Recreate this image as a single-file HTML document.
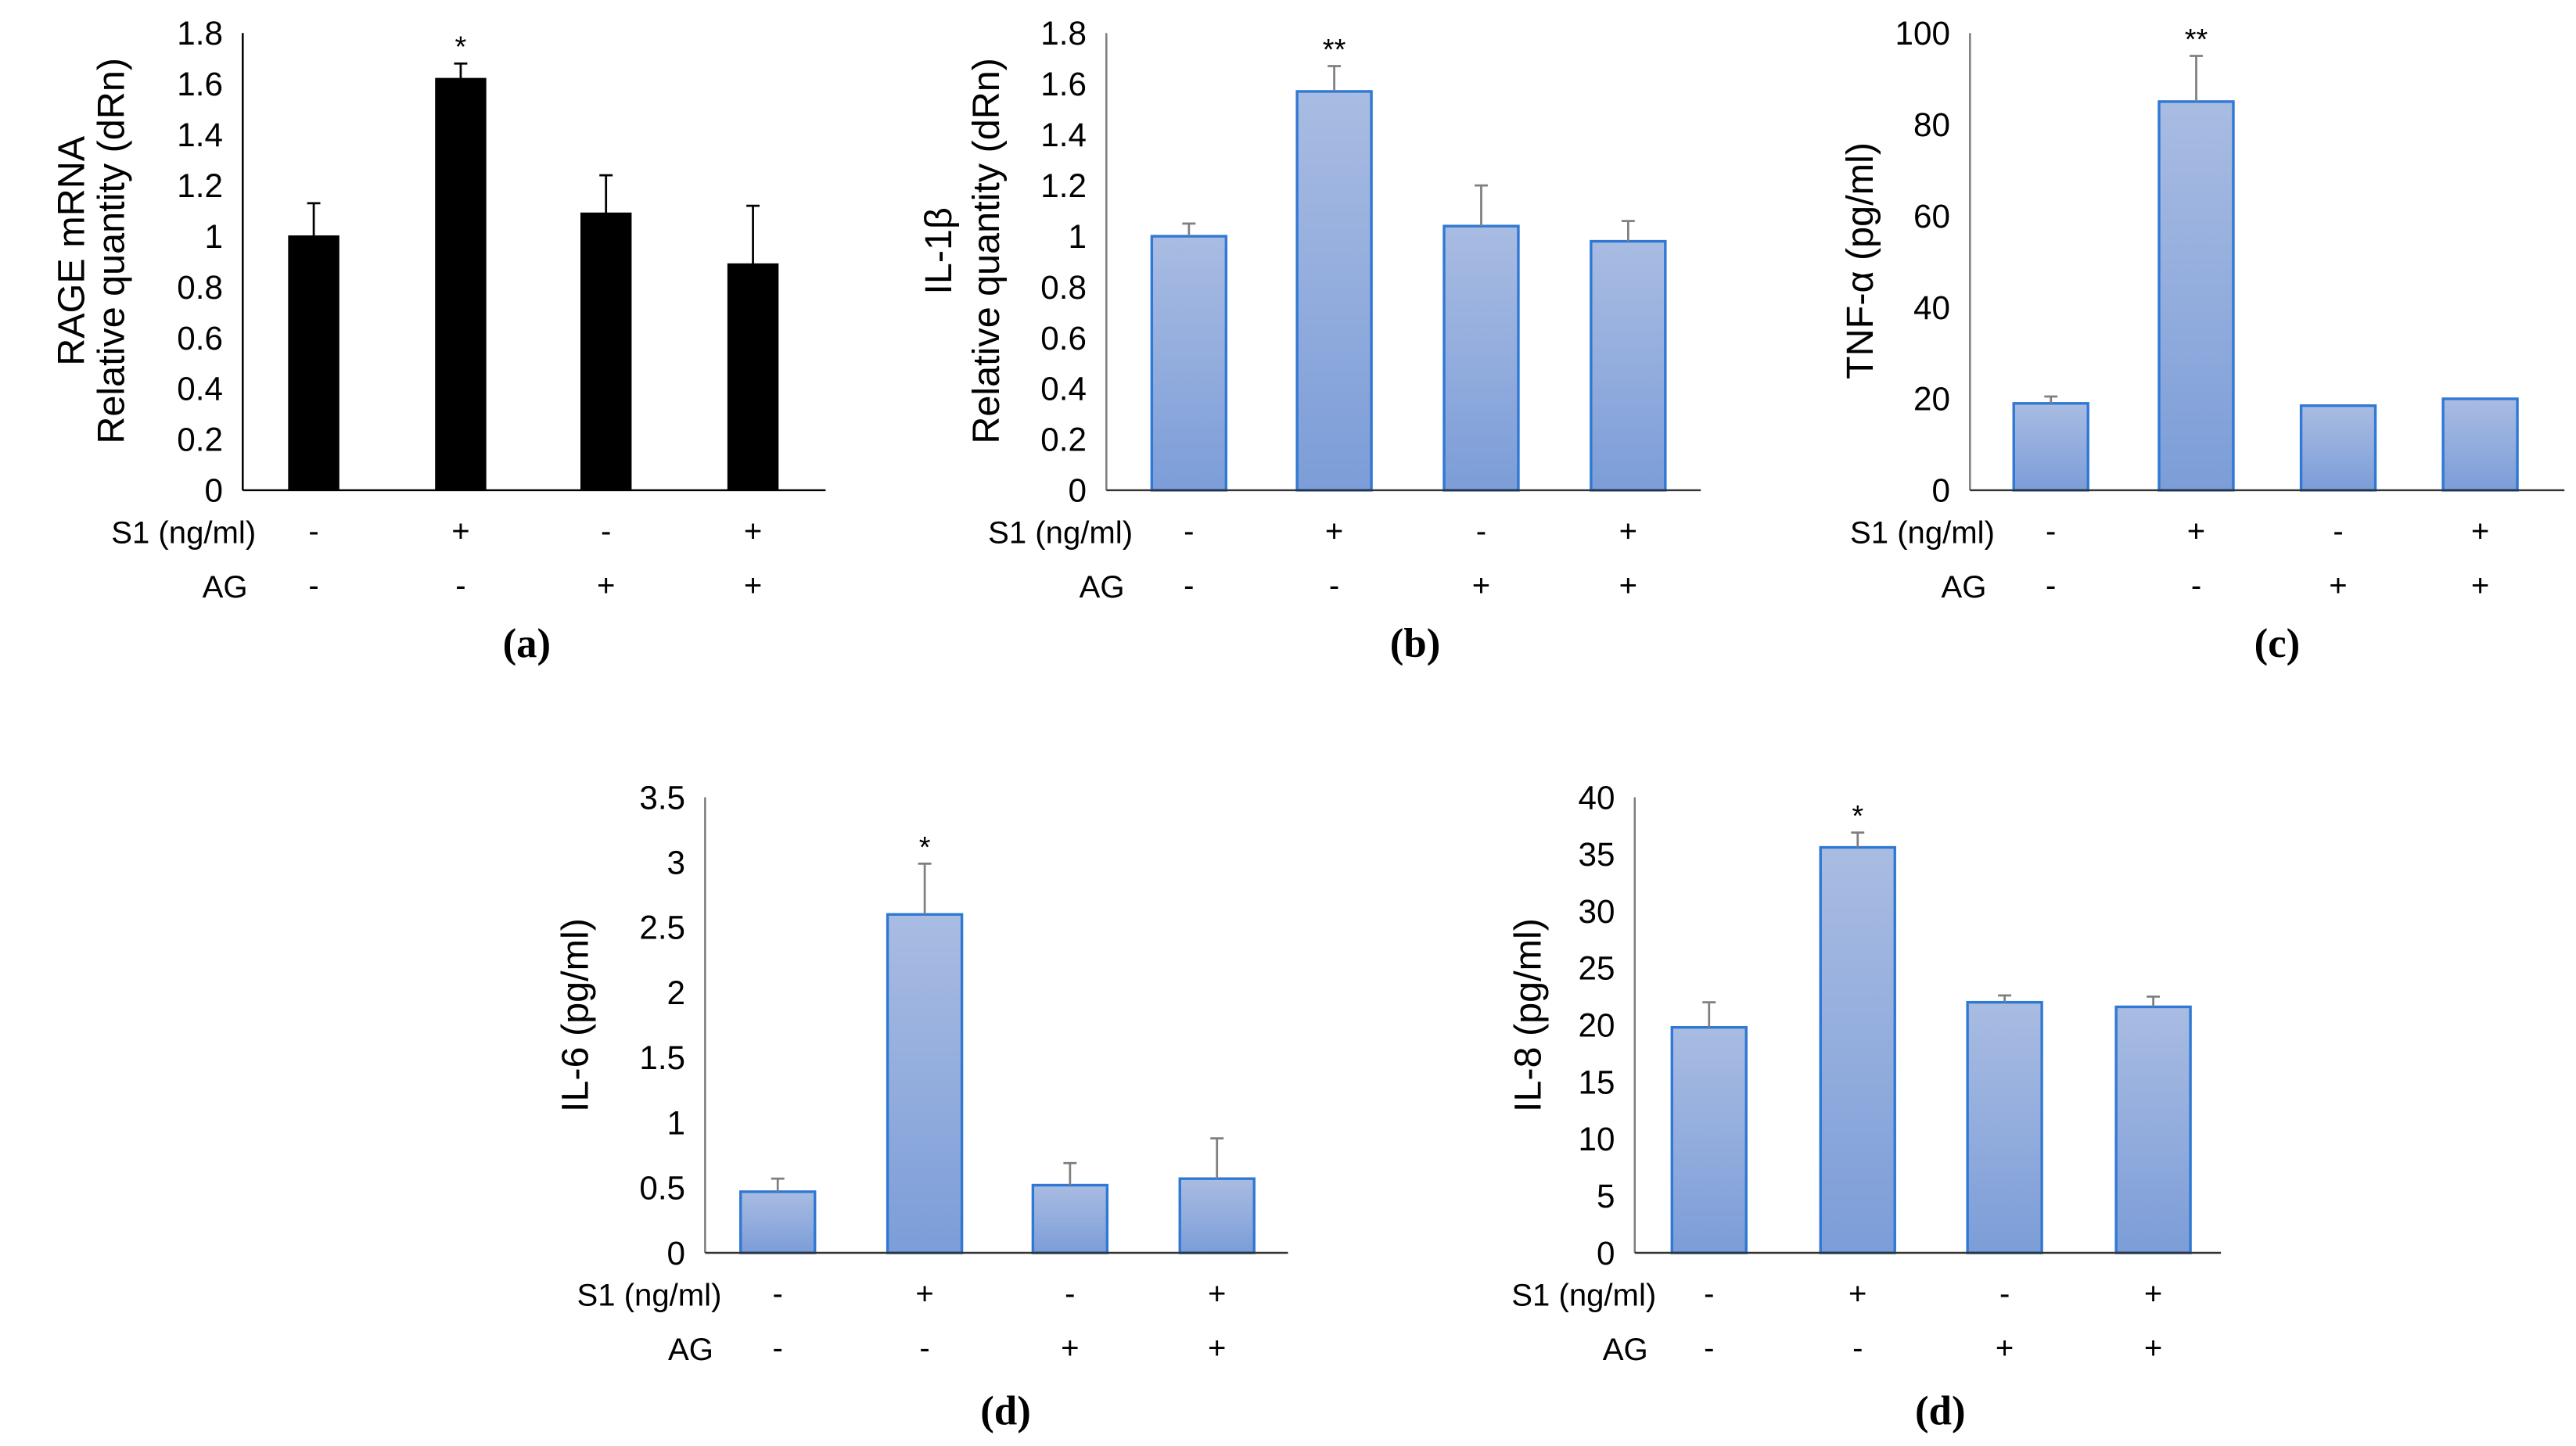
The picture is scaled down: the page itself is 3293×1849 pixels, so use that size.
<!DOCTYPE html>
<html><head><meta charset="utf-8"><style>
html,body{margin:0;padding:0;background:#fff;}
svg{display:block;}
text{font-family:"Liberation Sans",sans-serif;fill:#000;}
.lbl{font-family:"Liberation Serif",serif;font-weight:bold;}
</style></head><body>
<svg id="fig" width="3293" height="1849" viewBox="0 0 1560 876" preserveAspectRatio="none" xmlns="http://www.w3.org/2000/svg">
<defs>
<linearGradient id="bg" x1="0" y1="0" x2="0" y2="1"><stop offset="0" stop-color="#a9bce2"/><stop offset="1" stop-color="#7c9dd8"/></linearGradient>
</defs>
</svg>
<script>
// Panel (a) RAGE mRNA
const aValues=[1.0,1.62,1.09,0.89];
const aErr=[0.13,0.06,0.15,0.23];
const aTicks=["0","0.2","0.4","0.6","0.8","1","1.2","1.4","1.6","1.8"];
// Panel (b) IL-1β
const bValues=[1.0,1.57,1.04,0.98];
const bErr=[0.05,0.10,0.16,0.08];
const bTicks=["0","0.2","0.4","0.6","0.8","1","1.2","1.4","1.6","1.8"];
// Panel (c) TNF-α
const cValues=[19,85,18.5,20];
const cErr=[1.5,10,0,0];
const cTicks=["0","20","40","60","80","100"];
// Panel (d) IL-6
const dValues=[0.47,2.6,0.52,0.57];
const dErr=[0.10,0.39,0.17,0.31];
const dTicks=["0","0.5","1","1.5","2","2.5","3","3.5"];
// Panel (e) IL-8
const eValues=[19.8,35.6,22,21.6];
const eErr=[2.2,1.3,0.6,0.9];
const eTicks=["0","5","10","15","20","25","30","35","40"];
const s1Row=["-","+","-","+"];
const agRow=["-","-","+","+"];
const stars=[["","*","",""],["","**","",""],["","**","",""],["","*","",""],["","*","",""]];

const NS="http://www.w3.org/2000/svg";
const svg=document.getElementById('fig');
function mk(tag,attrs,parent,txt){const e=document.createElementNS(NS,tag);for(const k in attrs)e.setAttribute(k,attrs[k]);if(txt!==undefined)e.textContent=txt;(parent||svg).appendChild(e);return e;}

const panels=[
 {id:'a',vals:aValues,err:aErr,ticks:aTicks,max:1.8,ax:147,top:20,zero:297,right:500,centers:[190,279,367,456],bw:30,black:true,titles:[["RAGE mRNA",43],["Relative quantity (dRn)",67]],tcy:152,s1x:155,lbl:"(a)",lx:319,ly:390,st:0},
 {id:'b',vals:bValues,err:bErr,ticks:bTicks,max:1.8,ax:670,top:20,zero:297,right:1030,centers:[720,808,897,986],bw:45,titles:[["IL-1β",568],["Relative quantity (dRn)",597]],tcy:152,s1x:686,lbl:"(b)",lx:857,ly:390,st:1},
 {id:'c',vals:cValues,err:cErr,ticks:cTicks,max:100,ax:1193,top:20,zero:297,right:1553,centers:[1242,1330,1416,1502],bw:45,titles:[["TNF-α  (pg/ml)",1126]],tcy:158,s1x:1208,lbl:"(c)",lx:1379,ly:390,st:2},
 {id:'d',vals:dValues,err:dErr,ticks:dTicks,max:3.5,ax:427,top:483,zero:759,right:780,centers:[471,560,648,737],bw:45,titles:[["IL-6  (pg/ml)",348]],tcy:615,s1x:437,lbl:"(d)",lx:609,ly:855,st:3},
 {id:'e',vals:eValues,err:eErr,ticks:eTicks,max:40,ax:990,top:483,zero:759,right:1345,centers:[1035,1125,1214,1304],bw:45,titles:[["IL-8  (pg/ml)",925]],tcy:615,s1x:1003,lbl:"(d)",lx:1175,ly:855,st:4}
];

panels.forEach(p=>{
  const g=mk('g',{});
  
  
  const y=v=>p.zero-(v/p.max)*(p.zero-p.top);
  const axc=p.black?'#000':'#7f7f7f';
  p.ticks.forEach(t=>{
    const tt=mk('text',{x:p.ax-12,y:y(parseFloat(t))+7,'text-anchor':'end','font-size':20},g,t);
    
    
  });
  p.vals.forEach((v,i)=>{
    const cx=p.centers[i];
    const r=mk('rect',{x:cx-p.bw/2,y:y(v),width:p.bw,height:p.zero-y(v),fill:p.black?'#000':'url(#bg)',stroke:p.black?'#000':'#2f78d3','stroke-width':p.black?1:1.6},g);
    
    
    if(p.err[i]>0){
      const ec=p.black?'#000':'#7f7f7f';
      const e1=mk('line',{x1:cx,x2:cx,y1:y(v),y2:y(v+p.err[i]),stroke:ec,'stroke-width':1.3},g);
      
      
      mk('line',{x1:cx-4,x2:cx+4,y1:y(v+p.err[i]),y2:y(v+p.err[i]),stroke:ec,'stroke-width':1.3},g);
    }
    const s=stars[p.st][i];
    if(s){
      const st=mk('text',{x:cx,y:y(v+p.err[i])-4,'text-anchor':'middle','font-size':18},g,s);
      
      
    }
    const a=mk('text',{x:cx,y:p.zero+31,'text-anchor':'middle','font-size':19},g,s1Row[i]);
    
    
    const b=mk('text',{x:cx,y:p.zero+64,'text-anchor':'middle','font-size':19},g,agRow[i]);
    
    
  });
  const ya=mk('line',{x1:p.ax,x2:p.ax,y1:p.top,y2:p.zero,stroke:axc,'stroke-width':1.2},g);
  
  
  const xa=mk('line',{x1:p.ax,x2:p.right,y1:p.zero,y2:p.zero,stroke:p.black?'#000':'#333','stroke-width':1.2},g);
  
  
  p.titles.forEach(t=>{
    const tt=mk('text',{x:t[1],y:p.tcy,'text-anchor':'middle','font-size':23,transform:`rotate(-90 ${t[1]} ${p.tcy})`,dy:8},g,t[0]);
    
    
  });
  const s1=mk('text',{x:p.s1x,y:p.zero+32,'text-anchor':'end','font-size':19},g,"S1 (ng/ml)");
  
  
  const ag=mk('text',{x:p.s1x-5,y:p.zero+65,'text-anchor':'end','font-size':19},g,"AG");
  
  
  const l=mk('text',{x:p.lx,y:p.ly+8,'text-anchor':'middle','font-size':25,'class':'lbl'},g,p.lbl);
  
  
});
</script>
</body></html>
